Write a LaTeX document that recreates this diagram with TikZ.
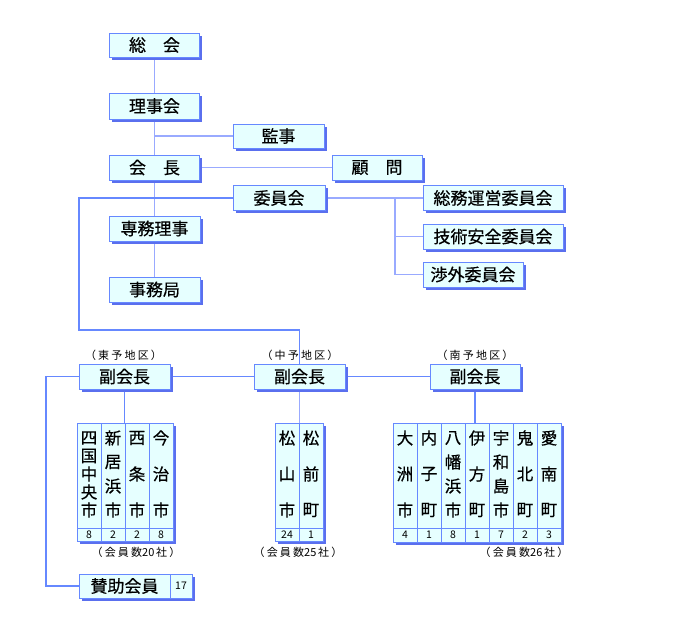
\documentclass[tikz,border=0pt]{standalone}
\usepackage{fontspec}
\newfontfamily\jp[FakeBold=0.5]{Noto Sans CJK JP}
\newfontfamily\jpsp[LetterSpace=20]{Noto Sans CJK JP}
\newfontfamily\jpn{Noto Sans CJK JP}
\usetikzlibrary{shadows,backgrounds}
\definecolor{bordercol}{HTML}{6688FF}
\definecolor{fillcol}{HTML}{E6FFFF}
\definecolor{shadowcol}{HTML}{5A6FEE}
\definecolor{linelight}{HTML}{99AAFF}
\definecolor{linedark}{HTML}{6688FF}
\begin{document}
\begin{tikzpicture}[x=1pt,y=-1pt,
  shad/.style={drop shadow={shadow xshift=2.5pt, shadow yshift=-2.5pt, fill=shadowcol, opacity=1}},
  box/.style={draw=bordercol, fill=fillcol, line width=1pt, minimum width=90pt, minimum height=25pt, inner sep=0pt, font=\jp\fontsize{17}{17}\selectfont, shad},
  grp/.style={draw=bordercol, fill=fillcol, line width=1pt, inner sep=0pt, shad},
  divider/.style={draw=bordercol, line width=1pt},
  conn/.style={draw=linelight, line width=1.3pt},
  conn2/.style={draw=linedark, line width=1.3pt},
  small/.style={font=\jpsp\fontsize{11}{11}\selectfont, inner sep=0pt},
  col/.style={font=\jp\fontsize{16.5}{16.5}\selectfont, inner sep=0pt},
  num/.style={font=\jpn\fontsize{10.5}{10.5}\selectfont, inner sep=0pt}
]
\useasboundingbox (0,0) rectangle (700,640);

% top boxes
\node[box, minimum height=24pt] (sokai) at (154.5,45) {総　会};
\node[box, minimum height=26pt] (rijikai) at (154.5,106) {理事会};
\node[box, minimum height=24pt, minimum width=91pt] (kanji) at (278.5,136) {監事};
\node[box] (kaicho) at (154.5,167.5) {会　長};
\node[box] (komon) at (377,167.5) {顧　問};
\node[box, minimum width=92pt] (iinkai) at (279,198) {委員会};
\node[box, minimum width=91pt] (senmu) at (154.5,228.5) {専務理事};
\node[box, minimum width=91pt] (jimu) at (154.5,289.5) {事務局};
\node[box, minimum width=140pt] (somu) at (493,198) {総務運営委員会};
\node[box, minimum width=140pt] (gijutsu) at (493,236.5) {技術安全委員会};
\node[box, minimum width=100pt] (shogai) at (473,274.5) {渉外委員会};

% vice chairmen
\node[small] (lt) at (123.5,355) {（東予地区）};
\node[small] (lc) at (300,355) {（中予地区）};
\node[small] (ln) at (475,355) {（南予地区）};
\node[box, minimum width=91pt] (toyo) at (124.5,376.5) {副会長};
\node[box, minimum width=91pt] (chuyo) at (299.5,376.5) {副会長};
\node[box, minimum width=90pt] (nanyo) at (475,376.5) {副会長};

% member groups
\node[grp, minimum width=96pt, minimum height=118pt] (east) at (125,482) {};
\node[grp, minimum width=48pt, minimum height=118pt] (mid) at (299,482) {};
\node[grp, minimum width=168pt, minimum height=119pt] (south) at (477,482.5) {};

% east dividers
\foreach \x in {101,125,149} \draw[divider] (\x,423) -- (\x,541);
\draw[divider] (77,528) -- (173,528);
% mid dividers
\draw[divider] (299,423) -- (299,541);
\draw[divider] (275,528) -- (323,528);
% south dividers
\foreach \x in {417,441,465,489,513,537} \draw[divider] (\x,423) -- (\x,542);
\draw[divider] (393,528) -- (561,528);

% column texts: x, step, chars
\foreach \x/\s/\chars [count=\i] in {
  89/18/{四,国,中,央,市},
  113/24/{新,居,浜,市},
  137/36/{西,条,市},
  161/36/{今,治,市},
  287/36/{松,山,市},
  311/36/{松,前,町},
  405/36/{大,洲,市},
  429/36/{内,子,町},
  453/24/{八,幡,浜,市},
  477/36/{伊,方,町},
  501/24/{宇,和,島,市},
  525/36/{鬼,北,町},
  549/36/{愛,南,町}}{
  \foreach \c [count=\k from 0] in \chars {
    \node[col] (c-\i-\k) at (\x,438+\k*\s) {\c};
  }
}
% numbers
\foreach \x/\n [count=\i] in {89/8,113/2,137/2,161/8,287/24,311/1,405/4,429/1,453/8,477/1,501/7,525/2,549/3}{
  \node[num] (n-\i) at (\x,535) {\n};
}

\node[small] (te) at (136,552) {（会員数{\jpn 20}\,社）};
\node[small] (tm) at (298,552) {（会員数{\jpn 25}\,社）};
\node[small] (ts) at (524,552) {（会員数{\jpn 26}\,社）};

% supporting members
\node[grp, minimum width=113pt, minimum height=24pt] (sanjo) at (135.5,586) {};
\node[font=\jp\fontsize{17}{17}\selectfont, inner sep=0pt] (sanjot) at (124.5,586) {賛助会員};
\draw[divider] (170,574) -- (170,598);
\node[num] (sanjon) at (181,586) {17};

\coordinate (kb) at (154.5,136);
\coordinate (lb) at (79,330);
\coordinate (rb) at (395,198);
\coordinate (sb) at (46,377);

\begin{scope}[on background layer]
\draw[conn] (sokai.south) -- (rijikai.north);
\draw[conn] (rijikai.south) -- (kaicho.north);
\draw[conn] (kb) -- (kanji.west);
\draw[conn] (kaicho.east) -- (komon.west);
\draw[conn] (kaicho.south) -- (senmu.north);
\draw[conn] (senmu.south) -- (jimu.north);
\draw[conn] (iinkai.east) -- (somu.west);
\draw[conn] (rb) |- (gijutsu.west);
\draw[conn] (rb) |- (shogai.west);
\draw[conn2] (iinkai.west) -| (lb) -| (chuyo.north);
\draw[conn2] (toyo.east) -- (chuyo.west);
\draw[conn2] (chuyo.east) -- (nanyo.west);
\draw[conn2] (toyo.west) -| (sb) |- (sanjo.west);
\draw[conn2] (toyo.south) -- (toyo.south |- east.north);
\draw[conn] (chuyo.south) -- (chuyo.south |- mid.north);
\draw[conn2] (nanyo.south) -- (nanyo.south |- south.north);
\end{scope}
\end{tikzpicture}
\end{document}
